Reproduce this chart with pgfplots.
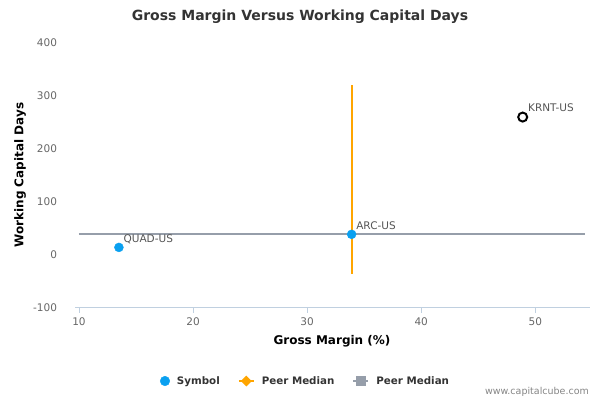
\documentclass[border=0pt]{standalone}
\usepackage{pgfplots}
\pgfplotsset{compat=1.18}
\usepackage{fontspec}
\setmainfont{DejaVu Sans}
\definecolor{symblue}{RGB}{10,160,240}
\definecolor{medorange}{RGB}{255,165,0}
\definecolor{medgray}{RGB}{150,158,170}
\definecolor{axisblue}{RGB}{192,208,224}
\definecolor{ticktext}{RGB}{102,102,102}
\definecolor{titlegray}{RGB}{51,51,51}
\definecolor{labeltext}{RGB}{85,85,85}
\begin{document}
\begin{tikzpicture}[x=1pt,y=1pt]
\path (0,0) rectangle (600,400);
\begin{axis}[
  at={(75pt,92.5pt)}, anchor=south west,
  scale only axis, width=515pt, height=264.5pt,
  xmin=9.65, xmax=54.8, ymin=-100, ymax=400,
  axis x line=bottom, axis y line=left,
  x axis line style={draw=axisblue,-, line width=0.8pt},
  y axis line style={draw=none},
  xtick={10,20,30,40,50}, ytick={-100,0,100,200,300,400},
  xtick align=outside, major tick length=5pt,
  x tick style={draw=axisblue, line width=0.8pt},
  y tick style={draw=none},
  tick label style={font=\fontsize{10.5}{12}\selectfont, text=ticktext},
  /pgf/number format/assume math mode=true,
  yticklabel style={anchor=east, xshift=-12pt},
  xticklabel style={yshift=-2pt},
  clip=false,
  legend columns=3,
  legend style={at={(0.4476,-0.278)}, anchor=center, draw=none, fill=none,
    font=\fontsize{10.3}{12}\selectfont\bfseries, text=titlegray,
    /tikz/every odd column/.append style={column sep=5pt},
    /tikz/every even column/.append style={column sep=16pt}},
]
\addplot[only marks, mark=*, mark size=4.5pt, mark options={draw=symblue, fill=symblue},
  nodes near coords, point meta=explicit symbolic,
  every node near coord/.style={anchor=west, inner sep=0pt, xshift=4.5pt, yshift=8.5pt,
    font=\fontsize{10.5}{12}\selectfont, text=labeltext},
  legend image code/.code={\fill[symblue] (5pt,0pt) circle (4.8pt);}]
  table[meta=label] {
x y label
13.5 13.6 QUAD-US
33.9 38.3 ARC-US
};
\addlegendentry{Symbol}
\addplot[medorange, line width=2pt,
  legend image code/.code={\draw[medorange, line width=2pt] (0pt,0pt)--(15pt,0pt);
    \fill[medorange] (7.5pt,0pt) ++(-4pt,0pt) -- ++(4pt,4pt) -- ++(4pt,-4pt) -- ++(-4pt,-4pt) -- cycle;}]
  coordinates {(33.9,-36) (33.9,320)};
\addlegendentry{Peer Median}
\addplot[medgray, line width=2pt,
  legend image code/.code={\draw[medgray, line width=2pt] (0pt,0pt)--(15pt,0pt);
    \fill[medgray] (3.5pt,-4pt) rectangle (11.5pt,4pt);}]
  coordinates {(10,38.3) (54.4,38.3)};
\addlegendentry{Peer Median}
\addplot[forget plot, only marks, mark=o, mark size=4.5pt, mark options={draw=black, line width=2pt, fill=white},
  nodes near coords, point meta=explicit symbolic,
  every node near coord/.style={anchor=west, inner sep=0pt, xshift=4.5pt, yshift=9pt,
    font=\fontsize{10.5}{12}\selectfont, text=labeltext}]
  table[meta=label] {
x y label
48.9 260 KRNT-US
};
\end{axis}
\node[font=\fontsize{14}{16}\selectfont\bfseries, text=titlegray] at (300,383) {Gross Margin Versus Working Capital Days};
\node[font=\fontsize{12}{14}\selectfont\bfseries, text=black, rotate=90] at (20,225) {Working Capital Days};
\node[font=\fontsize{12}{14}\selectfont\bfseries, text=black] at (332,59) {Gross Margin (\%)};
\node[font=\fontsize{9.5}{11}\selectfont, text=ticktext!80, anchor=east, inner sep=0pt] at (589,7.7) {www.capitalcube.com};
\end{tikzpicture}
\end{document}
